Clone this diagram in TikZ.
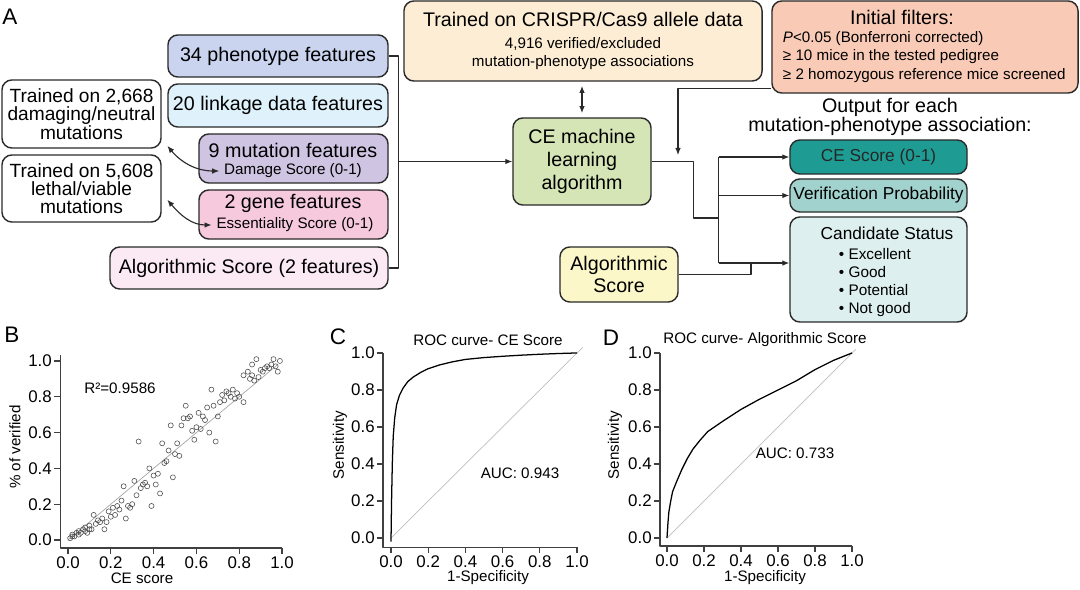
\documentclass[tikz,border=0pt]{standalone}
\usepackage{fontspec}
\setmainfont{Liberation Sans}
\usetikzlibrary{arrows.meta}

\definecolor{phencol}{HTML}{CAD4EE}
\definecolor{linkcol}{HTML}{DFF1FA}
\definecolor{mutcol}{HTML}{CFC4E2}
\definecolor{genecol}{HTML}{F6C9DD}
\definecolor{algfcol}{HTML}{FBEAF3}
\definecolor{crispcol}{HTML}{FDEDD5}
\definecolor{filtcol}{HTML}{F9CBB6}
\definecolor{mlcol}{HTML}{D5E5B6}
\definecolor{algscol}{HTML}{FBF7C9}
\definecolor{cescol}{HTML}{1E9C94}
\definecolor{vercol}{HTML}{A2D2CD}
\definecolor{candcol}{HTML}{DDEFEE}
\definecolor{linecol}{HTML}{2A2A2A}

\newcommand{\boxfont}{\fontsize{14}{16.3}\selectfont}
\newcommand{\trfont}{\fontsize{13.6}{13}\selectfont}
\newcommand{\subfont}{\fontsize{10.8}{13}\selectfont}
\newcommand{\outfont}{\fontsize{12.3}{14}\selectfont}
\newcommand{\bulfont}{\fontsize{10.9}{12.8}\selectfont}
\newcommand{\tickfont}{\fontsize{12}{14}\selectfont}
\newcommand{\labfont}{\fontsize{10.8}{12}\selectfont}
\newcommand{\panelfont}{\fontsize{16}{18}\selectfont}

\tikzset{
  cbox/.style={draw=linecol, line width=1pt, rounded corners=7pt, align=center, inner sep=2pt},
  arr/.style={-{Latex[length=5pt,width=4pt]}},
  dblarr/.style={{Latex[length=5pt,width=4pt]}-{Latex[length=5pt,width=4pt]}},
  conn/.style={draw=linecol, line width=0.8pt},
  axis/.style={draw=black!75, line width=0.8pt},
}

\begin{document}
\begin{tikzpicture}[x=0.025cm,y=-0.025cm,line join=round]
  \fill[white] (0,0) rectangle (1080,590);
  \useasboundingbox (0,0) rectangle (1080,590);

  % panel A
  \node[font=\panelfont] (lA) at (10,17) {A};

  \node[cbox,fill=phencol,minimum width=5.5cm,minimum height=1.05cm,font=\boxfont] (phen) at (278,56) {34 phenotype features};
  \node[cbox,fill=linkcol,minimum width=5.5cm,minimum height=1.075cm,font=\boxfont] (link) at (278,105.5) {20 linkage data features};
  \node[cbox,fill=mutcol,minimum width=4.725cm,minimum height=1.225cm] (mut) at (293.5,158.5) {};
  \node[font=\boxfont] (mutt) at (293,150) {9 mutation features};
  \node[font=\subfont] (dmg) at (293,171) {Damage Score (0-1)};
  \node[cbox,fill=genecol,minimum width=4.725cm,minimum height=1.225cm] (gene) at (293.5,214.5) {};
  \node[font=\boxfont] (genet) at (293,203) {2 gene features};
  \node[font=\subfont] (ess) at (295,225) {Essentiality Score (0-1)};
  \node[cbox,fill=algfcol,minimum width=6.95cm,minimum height=1.05cm,font=\boxfont] (algf) at (249,268) {Algorithmic Score (2 features)};

  \node[cbox,fill=white,minimum width=3.975cm,minimum height=1.7cm,font=\trfont] (tr1) at (81.5,114) {Trained on 2,668\\damaging/neutral\\mutations};
  \node[cbox,fill=white,minimum width=3.975cm,minimum height=1.675cm,font=\trfont] (tr2) at (81.5,188.5) {Trained on 5,608\\lethal/viable\\mutations};

  \node[cbox,fill=crispcol,minimum width=8.95cm,minimum height=2cm,font=\fontsize{14}{13}\selectfont] (crisp) at (583,41)
    {Trained on CRISPR/Cas9 allele data\\[2.5pt]\subfont 4,916 verified/excluded\\\subfont mutation-phenotype associations};
  \node[cbox,fill=filtcol,minimum width=7.65cm,minimum height=2.3cm] (filt) at (925,47) {};
  \node[font=\boxfont] (filtt) at (902,17) {Initial filters:};
  \node[font=\subfont,align=left,anchor=west] (filtl) at (778,57)
    {\textit{P}<0.05 (Bonferroni corrected)\\≥ 10 mice in the tested pedigree\\≥ 2 homozygous reference mice screened};

  \node[cbox,fill=mlcol,minimum width=3.45cm,minimum height=2.175cm,font=\boxfont] (ml) at (582,161.5) {CE machine\\learning\\algorithm};
  \node[cbox,fill=algscol,minimum width=2.95cm,minimum height=1.375cm,font=\boxfont] (algs) at (619,274.5) {Algorithmic\\Score};

  \node[font=\fontsize{14}{13.3}\selectfont,align=center] (outt) at (890,117) {Output for each\\mutation-phenotype association:};
  \node[cbox,fill=cescol,minimum width=4.425cm,minimum height=0.85cm,font=\outfont,text=black!85] (ces) at (878.5,157) {CE Score (0-1)};
  \node[cbox,fill=vercol,minimum width=4.425cm,minimum height=0.825cm,font=\outfont] (ver) at (878.5,195.5) {Verification Probability};
  \node[cbox,fill=candcol,minimum width=4.425cm,minimum height=2.625cm] (cand) at (878.5,269.5) {};
  \node[font=\outfont] (candt) at (887,233) {Candidate Status};
  \node[font=\bulfont,align=left,anchor=north west] (candl) at (834,243)
    {• Excellent\\• Good\\• Potential\\• Not good};

  % connectors
  \draw[conn] (phen.east) -- ++(10,0) coordinate (bus) |- (algf.east);
  \draw[conn,arr] (bus |- ml.west) -- (ml.west);
  \draw[conn,dblarr] ([yshift=-3pt]crisp.south -| ml.north) -- ([yshift=3pt]ml.north);
  \draw[conn,dblarr] ([xshift=4pt,yshift=2pt]tr1.south east) to[out=-50,in=180] (dmg.west);
  \draw[conn,dblarr] ([xshift=4pt,yshift=-8pt]tr2.east) to[out=-50,in=180] (ess.west);

  \coordinate (fin) at (678,155);
  \draw[conn,arr] ([yshift=3.5pt]filt.south west) -| (fin);

  \draw[conn] (ml.east) -| ++(42,56.5) -- ++(25,0) coordinate (bus2);
  \coordinate (candin) at ([yshift=4.6pt]cand.west);
  \draw[conn] (bus2 |- ces.west) -- (bus2 |- candin);
  \draw[conn,arr] (bus2 |- ces.west) -- (ces.west);
  \draw[conn,arr] (bus2 |- ver.west) -- (ver.west);
  \draw[conn,arr] (bus2 |- candin) -- (candin);
  \coordinate (j2) at (751,0);
  \draw[conn] (algs.east) -| (j2 |- candin);

  % panel B
  \node[font=\panelfont] (lB) at (12,335) {B};
  \node[font=\labfont] (r2) at (120,388) {R²=0.9586};
  \node[font=\labfont] (bx) at (142,578) {CE score};
  \node[font=\labfont,rotate=90] (by) at (15,447) {\% of verified};
  \begin{scope}[shift={(68,540)},x=5.35cm,y=4.475cm]
    \draw[axis] (-0.037,1.034) -- (-0.037,-0.045) -- (1.0,-0.045);
    \foreach \v in {0.0,0.2,0.4,0.6,0.8,1.0} {
      \draw[axis] (-0.037,\v) -- ++(-4pt,0) node[left,font=\tickfont,inner sep=1.5pt] {\v};
      \draw[axis] (\v,-0.045) -- ++(0,-4pt) node[below,font=\tickfont,inner sep=1.5pt] {\v};
    }
    \draw[gray!70,line width=0.5pt] (0,0) -- (0.98,0.98);
    \foreach \px/\py in {0.01/0.01,0.02/0.02,0.02/0.03,0.03/0.02,0.04/0.04,0.05/0.03,0.05/0.05,0.06/0.04,
      0.07/0.06,0.08/0.05,0.08/0.07,0.09/0.04,0.10/0.06,0.10/0.08,0.11/0.06,0.12/0.14,0.13/0.09,0.14/0.11,
      0.15/0.10,0.16/0.12,0.17/0.06,0.18/0.10,0.19/0.16,0.20/0.13,0.21/0.18,0.22/0.14,0.23/0.19,0.24/0.17,
      0.25/0.22,0.26/0.30,0.27/0.12,0.28/0.19,0.29/0.18,0.30/0.20,0.31/0.33,0.32/0.25,0.33/0.55,0.34/0.29,
      0.35/0.31,0.36/0.32,0.37/0.30,0.38/0.40,0.39/0.19,0.40/0.36,0.41/0.31,0.42/0.37,0.43/0.26,0.44/0.54,
      0.45/0.43,0.46/0.44,0.47/0.50,0.48/0.64,0.49/0.35,0.50/0.48,0.51/0.54,0.52/0.47,0.53/0.64,0.54/0.68,
      0.55/0.75,0.56/0.68,0.57/0.69,0.58/0.61,0.59/0.56,0.60/0.63,0.61/0.71,0.62/0.62,0.63/0.69,0.64/0.67,
      0.65/0.74,0.66/0.60,0.67/0.84,0.68/0.75,0.69/0.55,0.70/0.69,0.71/0.77,0.72/0.81,0.73/0.78,0.74/0.83,
      0.75/0.82,0.76/0.80,0.77/0.84,0.78/0.79,0.79/0.82,0.80/0.80,0.82/0.77,0.82/0.92,0.84/0.94,0.85/0.90,
      0.86/0.92,0.87/0.89,0.88/1.01,0.89/0.91,0.90/0.95,0.91/0.94,0.92/0.96,0.93/0.97,0.94/0.96,0.95/0.98,
      0.96/1.01,0.97/0.97,0.98/0.94,0.99/1.00,0.86/0.98}
      \draw[black!70,line width=0.4pt] (\px,\py) circle (1.8pt);
  \end{scope}

  % panel C
  \node[font=\panelfont] (lC) at (338,337) {C};
  \node[font=\labfont] (ct) at (488,340) {ROC curve- CE Score};
  \node[font=\labfont] (cauc) at (520,473) {AUC: 0.943};
  \node[font=\labfont] (cx) at (488,578) {1-Specificity};
  \node[font=\labfont,rotate=90] (cy) at (340,445) {Sensitivity};
  \begin{scope}[shift={(391,538)},x=4.65cm,y=4.625cm]
    \draw[axis] (-0.043,1.0) -- (-0.043,-0.049) -- (1.0,-0.049);
    \foreach \v in {0.0,0.2,0.4,0.6,0.8,1.0} {
      \draw[axis] (-0.043,\v) -- ++(-4pt,0) node[left,font=\tickfont,inner sep=1.5pt] {\v};
      \draw[axis] (\v,-0.049) -- ++(0,-4pt) node[below,font=\tickfont,inner sep=1.5pt] {\v};
    }
    \draw[gray!50,line width=0.5pt] (0,0) -- (1.03,1.03);
    \draw[black,line width=0.9pt] plot coordinates {(0,-0.02) (0.003,0.2) (0.007,0.4) (0.012,0.55) (0.02,0.65)
      (0.03,0.72) (0.045,0.77) (0.065,0.81) (0.09,0.845) (0.12,0.87) (0.16,0.895) (0.2,0.915) (0.26,0.935)
      (0.33,0.952) (0.4,0.965) (0.5,0.975) (0.6,0.982) (0.7,0.988) (0.8,0.993) (0.9,0.997) (1,1)};
  \end{scope}

  % panel D
  \node[font=\panelfont] (lD) at (611,338) {D};
  \node[font=\labfont] (dt) at (765,340) {ROC curve- Algorithmic Score};
  \node[font=\labfont] (dauc) at (795,453) {AUC: 0.733};
  \node[font=\labfont] (dx) at (765,578) {1-Specificity};
  \node[font=\labfont,rotate=90] (dy) at (615,445) {Sensitivity};
  \begin{scope}[shift={(667,538)},x=4.625cm,y=4.625cm]
    \draw[axis] (-0.038,1.0) -- (-0.038,-0.043) -- (1.0,-0.043);
    \foreach \v in {0.0,0.2,0.4,0.6,0.8,1.0} {
      \draw[axis] (-0.038,\v) -- ++(-4pt,0) node[left,font=\tickfont,inner sep=1.5pt] {\v};
      \draw[axis] (\v,-0.043) -- ++(0,-4pt) node[below,font=\tickfont,inner sep=1.5pt] {\v};
    }
    \draw[gray!50,line width=0.5pt] (0,0) -- (1.02,1.02);
    \draw[black,line width=0.9pt] plot coordinates {(0,0) (0.005,0.08) (0.01,0.14) (0.02,0.2) (0.03,0.25)
      (0.05,0.3) (0.08,0.37) (0.11,0.43) (0.14,0.48) (0.18,0.53) (0.22,0.575) (0.3,0.63) (0.4,0.695)
      (0.5,0.75) (0.6,0.8) (0.7,0.85) (0.8,0.91) (0.9,0.96) (1,1)};
  \end{scope}
\end{tikzpicture}
\end{document}
